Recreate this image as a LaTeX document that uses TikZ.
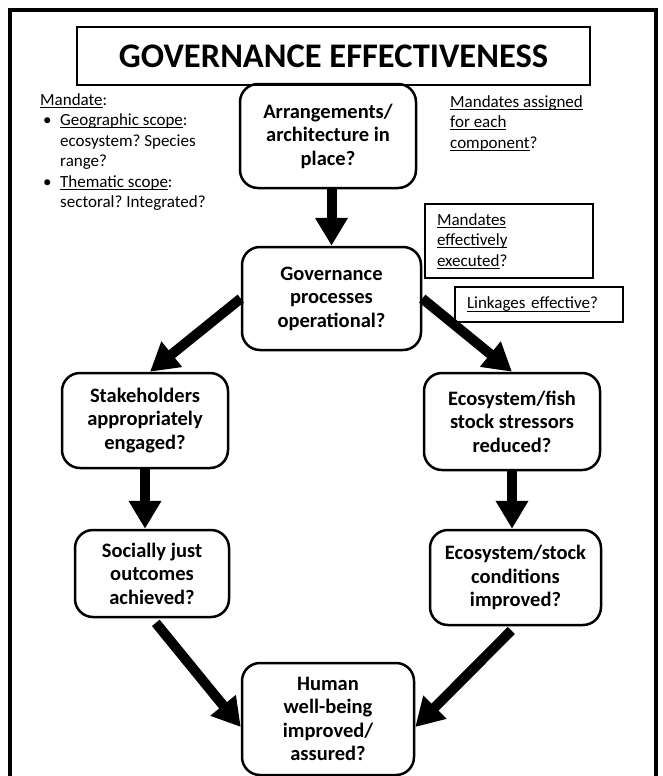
\documentclass[tikz,border=0pt]{standalone}
\usepackage{fontspec}
\setmainfont{Carlito}
\usetikzlibrary{positioning}
\usetikzlibrary{arrows.meta}
\frenchspacing
\newcommand{\notefont}{\fontsize{17}{20.5}\selectfont}
\newcommand{\indt}{\hspace*{20pt}}
\newcommand{\bul}{\makebox[20pt][l]{\hspace{3pt}\textbullet}}
\newlength{\ulnwd}
\newcommand{\uln}[1]{\leavevmode\settowidth{\ulnwd}{#1}\rlap{\rule[-2.8pt]{\ulnwd}{0.9pt}}#1}

\tikzset{
    qbox/.style={draw, line width=2.5pt, rounded corners=18pt, align=center, inner sep=4pt,
        font=\bfseries\fontsize{20.5}{23.5}\selectfont},
    notebox/.style={draw, line width=1.2pt, align=left, inner xsep=12pt, inner ysep=0pt,
        text width=144pt, font=\notefont},
    note/.style={align=left, inner sep=0pt, font=\notefont},
    bigarrow/.style={line width=10pt, -{Triangle[width=31pt, length=28pt]}},
}

\begin{document}
\begin{tikzpicture}[x=1pt, y=-1pt]
    \useasboundingbox (0,0) rectangle (663,776);
    \draw[line width=4pt] (10,790) -- (10,10) -- (656,10) -- (656,790);

    \node[draw, line width=2pt, minimum width=513pt, minimum height=58pt,
        font=\bfseries\fontsize{34.5}{40}\selectfont] (title) at (333.5,56) {GOVERNANCE EFFECTIVENESS};

    \node[note, anchor=north west] (mandate) at (40,93) {\uln{Mandate}:\\
        \bul\uln{Geographic scope}:\\
        \indt ecosystem? Species\\
        \indt range?\\
        \bul\uln{Thematic scope}:\\
        \indt sectoral? Integrated?};
    \node[note, anchor=north west] (assigned) at (450,95) {\uln{Mandates assigned}\\
        \uln{for each}\\
        \uln{component}?};
    \node[notebox, minimum height=74pt] (executed) at (509,241) {\uln{Mandates}\\
        \uln{effectively}\\
        \uln{executed}?};
    \node[notebox, minimum height=35pt] (linkages) at (539,304.5) {\uln{Linkages effective}?};

    \node[qbox, minimum width=176pt, minimum height=104pt] (arr) at (328,136) {Arrangements/\\architecture in\\place?};
    \node[qbox, minimum width=179pt, minimum height=103pt] (gov) at (331.5,298.5) {Governance\\processes\\operational?};
    \node[qbox, minimum width=166pt, minimum height=95pt] (stake) at (145,420.5) {Stakeholders\\appropriately\\engaged?};
    \node[qbox, minimum width=176pt, minimum height=97pt] (eco) at (512,421.5) {Ecosystem/fish\\stock stressors\\reduced?};
    \node[qbox, minimum width=154pt, minimum height=87pt] (social) at (152,573.5) {Socially just\\outcomes\\achieved?};
    \node[qbox, minimum width=171pt, minimum height=95pt] (cond) at (515.5,577.5) {Ecosystem/stock\\conditions\\improved?};
    \node[qbox, minimum width=172pt, minimum height=112pt] (human) at (328,719) {Human\\well-being\\improved/\\assured?};

    \draw[bigarrow] (arr.south -| gov.north) -- (gov.north);
    \draw[bigarrow] (gov.west) -- ([xshift=5pt]stake.north);
    \draw[bigarrow] (gov.east) -- (eco.north);
    \draw[bigarrow] (stake.south) -- (stake.south |- social.north);
    \draw[bigarrow] (eco.south) -- (eco.south |- cond.north);
    \draw[bigarrow, shorten <=6pt] (social.south) -- ([yshift=-8pt]human.west);
    \draw[bigarrow, shorten <=6pt] (cond.south) -- ([yshift=-8pt]human.east);
\end{tikzpicture}
\end{document}
